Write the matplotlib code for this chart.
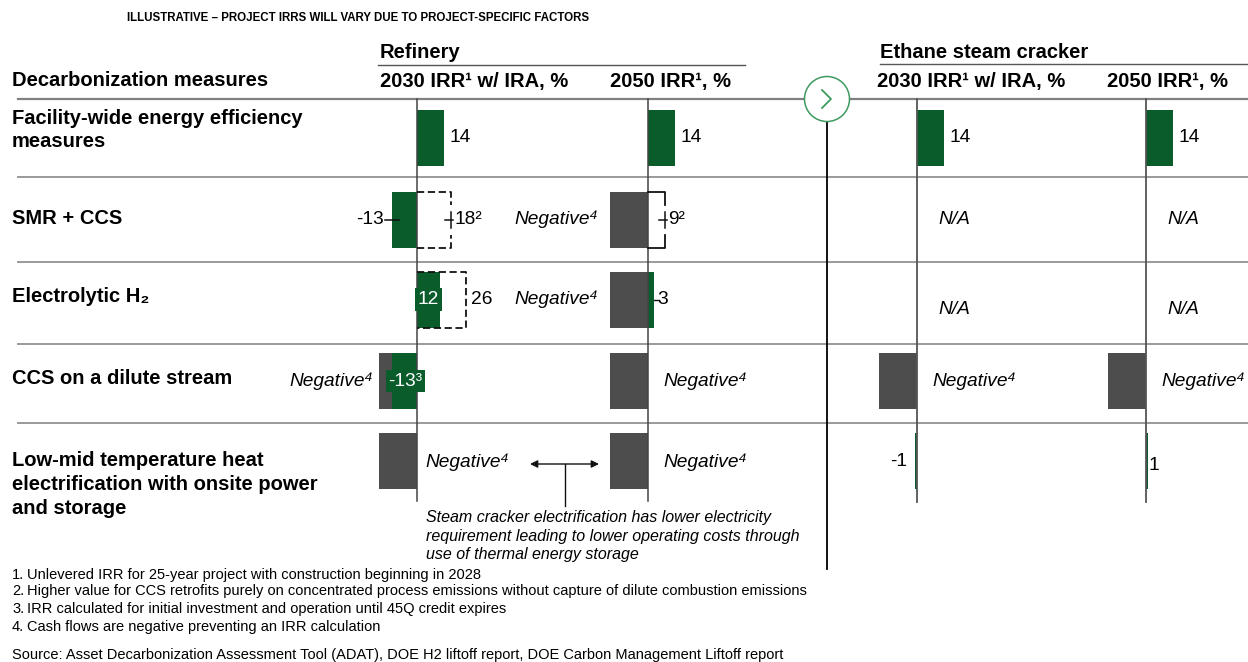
import matplotlib
matplotlib.use('Agg')
import matplotlib.pyplot as plt
from matplotlib.patches import Circle

plt.rcParams['font.family'] = ['Liberation Sans', 'DejaVu Sans']

# ---- data ----
measures = ["Facility-wide energy efficiency\nmeasures", "SMR + CCS", "Electrolytic H\u2082",
            "CCS on a dilute stream", "Low-mid temperature heat\nelectrification with onsite power\nand storage"]
groups = ["Refinery", "Ethane steam cracker"]
col_titles = ["2030 IRR\u00b9 w/ IRA, %", "2050 IRR\u00b9, %", "2030 IRR\u00b9 w/ IRA, %", "2050 IRR\u00b9, %"]

# IRR in %, None = no value
refinery_2030 = [14, -13, 12, -13, None]
refinery_2030_upper = [None, 18, 26, None, None]
refinery_2050 = [14, None, 3, None, None]
refinery_2050_upper = [None, 9, None, None, None]
cracker_2030 = [14, None, None, None, -1]
cracker_2050 = [14, None, None, None, 1]
# cash flows negative -> no IRR
refinery_2030_neg = [False, False, False, True, True]
refinery_2050_neg = [False, True, True, True, True]
cracker_2030_neg = [False, False, False, True, False]
cracker_2050_neg = [False, False, False, True, False]
cracker_na = [False, True, True, False, False]

footnotes = ["Unlevered IRR for 25-year project with construction beginning in 2028",
             "Higher value for CCS retrofits purely on concentrated process emissions without capture of dilute combustion emissions",
             "IRR calculated for initial investment and operation until 45Q credit expires",
             "Cash flows are negative preventing an IRR calculation"]
source = "Source: Asset Decarbonization Assessment Tool (ADAT), DOE H2 liftoff report, DOE Carbon Management Liftoff report"
note = "Steam cracker electrification has lower electricity\nrequirement leading to lower operating costs through\nuse of thermal energy storage"

# ---- layout ----
GREEN = '#0a5c2b'
GREY = '#4d4d4d'
SCALE = 1.9        # px per % point
NEG_LEN = 20       # length used for "negative" placeholder bar
BAR_H = 56
row_y = [138, 219.5, 299.5, 381, 461]
label_y = [118, 219, 297, 378, 461]   # first line of row labels
base_x = [417, 648, 917, 1146]
NEG = "Negative\u2074"
HFS = 14.5   # header / row label size
fs = 13.8    # value labels

fig = plt.figure(figsize=(12.48, 6.62), dpi=100)
ax = fig.add_axes([0, 0, 1, 1])
ax.set_xlim(0, 1248)
ax.set_ylim(662, 0)
ax.axis('off')

ax.text(127, 18, "ILLUSTRATIVE \u2013 PROJECT IRRS WILL VARY DUE TO PROJECT-SPECIFIC FACTORS",
        fontsize=8.3, fontweight='bold', va='center')

# headers
ax.text(12, 80, "Decarbonization measures", fontsize=HFS, fontweight='bold', va='center')
ax.text(380, 52, groups[0], fontsize=HFS, fontweight='bold', va='center')
ax.text(880, 52, groups[1], fontsize=HFS, fontweight='bold', va='center')
ax.plot([378, 745], [65, 65], color='#555555', lw=1)
ax.plot([880, 1248], [64, 64], color='#555555', lw=1)
for x, t in zip([380, 610, 877, 1107], col_titles):
    ax.text(x, 82, t, fontsize=HFS, fontweight='bold', va='center')

# grid lines
ax.plot([18, 1248], [99, 99], color='#808080', lw=1.6, zorder=1)
for y in [177, 262, 344, 423]:
    ax.plot([18, 1248], [y, y], color='#9a9a9a', lw=1.4, zorder=1)
for x in base_x[:2]:
    ax.plot([x, x], [99, 501], color='#444444', lw=1.1, zorder=4)
for x in base_x[2:]:
    ax.plot([x, x], [99, 502], color='#555555', lw=1.3, zorder=4)

# divider with circle
ax.plot([826.5, 826.5], [121, 569], color='black', lw=1.3, zorder=2)
ax.add_patch(Circle((827, 99), 22.5, fc='white', ec='#3f9a60', lw=1.1, zorder=5))
ax.plot([822, 831, 822], [90, 99, 108], color='#3f9a60', lw=1.3, zorder=6)

# row labels
for y, m in zip(label_y, measures):
    for i, line in enumerate(m.split('\n')):
        ax.text(12, y + i * 23.5, line, fontsize=HFS, fontweight='bold', va='center')


def bars(col, vals, negs):
    x0 = base_x[col]
    for y, v, neg in zip(row_y, vals, negs):
        if neg:
            ax.barh(y, -NEG_LEN * SCALE, left=x0, height=BAR_H, color=GREY, zorder=3)
        if v is not None:
            ax.barh(y, v * SCALE, left=x0, height=BAR_H, color=GREEN, zorder=3)


def bracket(col, row, upper, dashed, tick):
    x0 = base_x[col]
    x1 = x0 + upper * SCALE
    y = row_y[row]
    top, bot = y - BAR_H / 2, y + BAR_H / 2
    kw = dict(color='#111111', lw=1.3, zorder=4)
    if dashed:
        kw['dashes'] = (4, 2)
    if tick:
        ax.plot([x0, x1, x1], [top, top, y - 15], **kw)
        ax.plot([x0, x1, x1], [bot, bot, y + 15], **kw)
        ax.plot([x1, x1], [y - 8, y + 8], color='#111111', lw=1.1)
        ax.plot([x1 - 6, x1 + 2], [y, y], color='#111111', lw=1.1)
    else:
        ax.plot([x0, x1, x1, x0], [top, top, bot, bot], **kw)
    return x1


bars(0, refinery_2030, refinery_2030_neg)
bars(1, refinery_2050, refinery_2050_neg)
bars(2, cracker_2030, cracker_2030_neg)
bars(3, cracker_2050, cracker_2050_neg)

# efficiency row
for col, vals in enumerate([refinery_2030, refinery_2050, cracker_2030, cracker_2050]):
    v = vals[0]
    ax.text(base_x[col] + v * SCALE + 6, row_y[0], str(v), fontsize=fs, va='center')

# SMR + CCS
x_end = base_x[0] + refinery_2030[1] * SCALE
ax.plot([x_end - 7, x_end + 7], [row_y[1], row_y[1]], color='#111111', lw=1.1, zorder=4)
ax.text(x_end - 8, row_y[1], str(refinery_2030[1]), fontsize=fs, va='center', ha='right')
x1 = bracket(0, 1, refinery_2030_upper[1], True, True)
ax.text(x1 + 3, row_y[1], f"{refinery_2030_upper[1]}\u00b2", fontsize=fs, va='center')
x1 = bracket(1, 1, refinery_2050_upper[1], False, True)
ax.text(x1 + 3, row_y[1], f"{refinery_2050_upper[1]}\u00b2", fontsize=fs, va='center')
ax.text(base_x[1] - NEG_LEN * SCALE - 12, row_y[1], NEG, fontsize=fs, style='italic',
        va='center', ha='right')

# Electrolytic H2
ax.text(base_x[0] + refinery_2030[2] * SCALE / 2, row_y[2], str(refinery_2030[2]), fontsize=fs,
        color='white', ha='center', va='center', zorder=5,
        bbox=dict(boxstyle='square,pad=0.15', fc=GREEN, ec='none'))
x1 = bracket(0, 2, refinery_2030_upper[2], True, False)
ax.text(x1 + 5, row_y[2], str(refinery_2030_upper[2]), fontsize=fs, va='center')
x_end = base_x[1] + refinery_2050[2] * SCALE
ax.plot([x_end, x_end + 5], [row_y[2], row_y[2]], color='#111111', lw=1.0)
ax.text(x_end + 4, row_y[2], str(refinery_2050[2]), fontsize=fs, va='center')
ax.text(base_x[1] - NEG_LEN * SCALE - 12, row_y[2], NEG, fontsize=fs, style='italic',
        va='center', ha='right')

# CCS on a dilute stream
ax.text(base_x[0] + refinery_2030[3] * SCALE / 2 + 1, row_y[3], f"{refinery_2030[3]}\u00b3", fontsize=fs,
        color='white', ha='center', va='center', zorder=5,
        bbox=dict(boxstyle='square,pad=0.12', fc=GREEN, ec='none'))
ax.text(base_x[0] - NEG_LEN * SCALE - 6, row_y[3], NEG, fontsize=fs, style='italic',
        va='center', ha='right')
for col in [1, 2, 3]:
    ax.text(base_x[col] + 15, row_y[3], NEG, fontsize=fs, style='italic', va='center')

# Low-mid temperature heat
for col in [0, 1]:
    ax.text(base_x[col] + 8 if col == 0 else base_x[col] + 15, row_y[4] + 1, NEG,
            fontsize=fs, style='italic', va='center')
ax.text(base_x[2] + cracker_2030[4] * SCALE - 8, row_y[4] + 1, str(cracker_2030[4]), fontsize=fs,
        va='center', ha='right')
ax.text(base_x[3] + cracker_2050[4] * SCALE + 1, row_y[4] + 4, str(cracker_2050[4]), fontsize=fs,
        va='center')

# N/A cells
for r, na in enumerate(cracker_na):
    if na:
        yy = row_y[r] + (10 if r == 2 else 0)
        for col in [2, 3]:
            ax.text(base_x[col] + 21, yy, "N/A", fontsize=fs, style='italic', va='center')

# annotation
ax.annotate('', xy=(530, 464), xytext=(599, 464),
            arrowprops=dict(arrowstyle='<|-|>', color='#111111', lw=1.0, mutation_scale=11,
                            shrinkA=0, shrinkB=0))
ax.plot([564.5, 564.5], [464, 506], color='#111111', lw=1.0)
ax.text(426, 536, note, fontsize=11.5, style='italic', va='center', linespacing=1.3)

# footnotes
for i, f in enumerate(footnotes):
    y = [575, 591, 609, 627][i]
    ax.text(12, y, f"{i + 1}.", fontsize=10.5, va='center')
    ax.text(27, y, f, fontsize=10.5, va='center')
ax.text(12, 655, source, fontsize=10.5, va='center')

fig.savefig('out.png', dpi=100)
